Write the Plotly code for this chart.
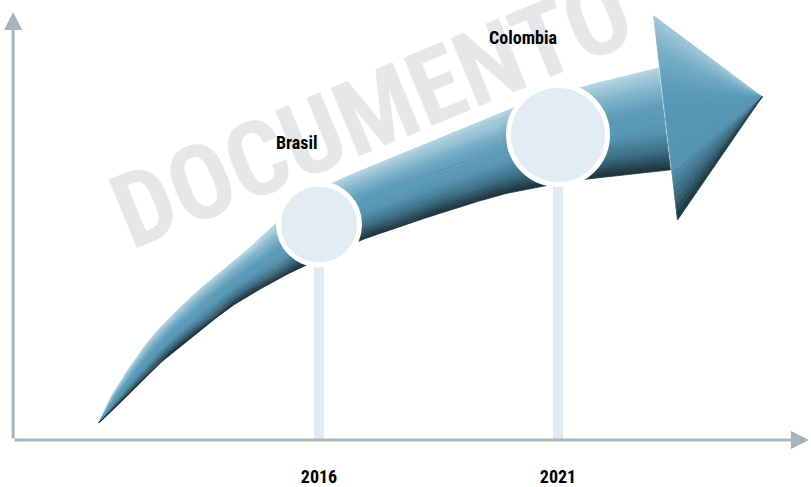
import numpy as np
import plotly.graph_objects as go
from plotly.colors import sample_colorscale

# Hitos de la línea de tiempo
anios = [2016, 2021]
paises = ["Brasil", "Colombia"]
nivel_hito = [49.0, 69.3]          # altura del círculo (escala 0-100)
tam_hito = [81, 99]                # diámetro del círculo en px

# Contorno de la flecha curva (x en años, y en escala 0-100)
borde_sup_x = [2011.4, 2011.7, 2012.4, 2013.1, 2013.8, 2014.5, 2015.4, 2016.2,
               2017.7, 2019.1, 2020.0, 2021.5, 2023.1]
borde_sup_y = [3.9, 10.7, 22.0, 30.2, 37.0, 43.2, 52.3, 58.0, 64.8, 71.1, 75.2, 80.2, 84.5]
borde_inf_x = [2011.4, 2012.05, 2012.75, 2013.45, 2014.15, 2014.85, 2015.6, 2016.9,
               2017.7, 2018.4, 2019.8, 2020.7, 2021.7, 2023.35]
borde_inf_y = [3.9, 10.7, 18.2, 24.3, 30.2, 34.8, 39.1, 45.5, 48.4, 51.1, 55.7, 57.7, 59.5, 61.4]
punta_x = [2023.0, 2025.27, 2023.5]   # esquina superior, punta, esquina inferior
punta_y = [96.4, 78.0, 50.0]

# px por unidad (para medir longitudes de forma isótropa)
PX_X = 47.8
PX_Y = 4.4

FUENTE = "Noto Sans Condensed, Roboto Condensed, Roboto, sans-serif"

escala_cuerpo = [[0.0, "#b8d4e0"], [0.18, "#86b8cd"], [0.38, "#5d9dba"],
                 [0.62, "#5595b1"], [0.82, "#3b6d82"], [1.0, "#1a313c"]]
escala_punta = [[0.0, "#a3c8d8"], [0.2, "#6faac3"], [0.4, "#5799b6"],
                [0.75, "#5494b0"], [0.9, "#37667a"], [1.0, "#1c3440"]]


def catmull_rom(xs, ys, pasos=20):
    p = np.column_stack([np.array(xs) * PX_X, np.array(ys) * PX_Y])
    p = np.vstack([p[0], p, p[-1]])
    out = []
    for i in range(1, len(p) - 2):
        p0, p1, p2, p3 = p[i - 1], p[i], p[i + 1], p[i + 2]
        for t in np.linspace(0, 1, pasos, endpoint=False):
            out.append(0.5 * (2 * p1 + (-p0 + p2) * t
                              + (2 * p0 - 5 * p1 + 4 * p2 - p3) * t ** 2
                              + (-p0 + 3 * p1 - 3 * p2 + p3) * t ** 3))
    out.append(p[-2])
    return np.array(out)


def remuestrear(curva, n=300):
    d = np.r_[0, np.cumsum(np.hypot(*np.diff(curva, axis=0).T))]
    d = d / d[-1]
    u = np.linspace(0, 1, n)
    return np.column_stack([np.interp(u, d, curva[:, 0]), np.interp(u, d, curva[:, 1])])


sup = remuestrear(catmull_rom(borde_sup_x, borde_sup_y))
inf = remuestrear(catmull_rom(borde_inf_x, borde_inf_y))

fig = go.Figure()

# cuerpo de la flecha: franjas desde el borde superior (claro) al inferior (oscuro)
n_franjas = 36
niveles = np.linspace(0, 1, n_franjas + 1)
colores = sample_colorscale(escala_cuerpo, list((niveles[:-1] + niveles[1:]) / 2))
for k in range(n_franjas):
    a = sup * (1 - niveles[k]) + inf * niveles[k]
    b = sup * (1 - niveles[k + 1]) + inf * niveles[k + 1]
    poli = np.vstack([a, b[::-1]])
    fig.add_trace(go.Scatter(
        x=poli[:, 0] / PX_X, y=poli[:, 1] / PX_Y, mode="lines",
        fill="toself", fillcolor=colores[k],
        line=dict(color=colores[k], width=0.8),
        hoverinfo="skip", showlegend=False
    ))

# punta: abanico desde el vértice
n_abanico = 30
s = np.linspace(0, 1, n_abanico + 1)
col_p = sample_colorscale(escala_punta, list((s[:-1] + s[1:]) / 2))
A = np.array([punta_x[0], punta_y[0]])
T = np.array([punta_x[1], punta_y[1]])
B = np.array([punta_x[2], punta_y[2]])
for k in range(n_abanico):
    p0 = A + (B - A) * s[k]
    p1 = A + (B - A) * s[k + 1]
    fig.add_trace(go.Scatter(
        x=[T[0], p0[0], p1[0], T[0]], y=[T[1], p0[1], p1[1], T[1]], mode="lines",
        fill="toself", fillcolor=col_p[k],
        line=dict(color=col_p[k], width=0.8),
        hoverinfo="skip", showlegend=False
    ))

# postes y círculos de los hitos
for anio, nivel in zip(anios, nivel_hito):
    fig.add_trace(go.Scatter(
        x=[anio, anio], y=[0, nivel], mode="lines",
        line=dict(color="#dfeaf1", width=10),
        hoverinfo="skip", showlegend=False
    ))
fig.add_trace(go.Scatter(
    x=anios, y=nivel_hito, mode="markers",
    marker=dict(size=tam_hito, color="#e1ecf3", opacity=1,
                line=dict(color="white", width=5)),
    text=paises, hoverinfo="text", showlegend=False
))

# marca de agua
fig.add_annotation(
    x=2017.1, y=74.5, xref="x", yref="y", text="DOCUMENTO",
    showarrow=False, textangle=-22.5, xanchor="center", yanchor="middle",
    font=dict(family=FUENTE, size=104, color="#e6e7e8", weight="bold")
)

# etiquetas de países
desplaz = [(-22, 82), (-35, 98)]
for anio, nivel, pais, (dx, dy) in zip(anios, nivel_hito, paises, desplaz):
    fig.add_annotation(
        x=anio, y=nivel, text=pais, showarrow=False,
        xshift=dx, yshift=dy,
        font=dict(family=FUENTE, size=18, color="black", weight="bold")
    )

# ejes con flecha
gris = "#a9b5bd"
origen_x = 2009.6
fig.add_annotation(x=origen_x, y=97.3, ax=origen_x, ay=0, xref="x", yref="y",
                   axref="x", ayref="y", text="", showarrow=True, arrowhead=2,
                   arrowsize=1.2, arrowwidth=3, arrowcolor=gris, standoff=0)
fig.add_annotation(x=2026.25, y=0, ax=origen_x, ay=0, xref="x", yref="y",
                   axref="x", ayref="y", text="", showarrow=True, arrowhead=2,
                   arrowsize=1.2, arrowwidth=3, arrowcolor=gris, standoff=0)

fig.update_layout(
    width=811, height=487,
    margin=dict(l=0, r=0, t=0, b=47),
    paper_bgcolor="white", plot_bgcolor="white",
    xaxis=dict(range=[2009.326, 2026.293], showgrid=False, zeroline=False,
               showline=False, tickvals=anios,
               ticktext=[str(a) for a in anios],
               ticks="", ticklabelstandoff=24,
               tickfont=dict(family=FUENTE, size=18, color="black", weight="bold")),
    yaxis=dict(range=[0, 100], visible=False),
    showlegend=False
)

fig.write_html("out.html", config={"displayModeBar": False},
               post_script="document.body.style.margin='0';")
